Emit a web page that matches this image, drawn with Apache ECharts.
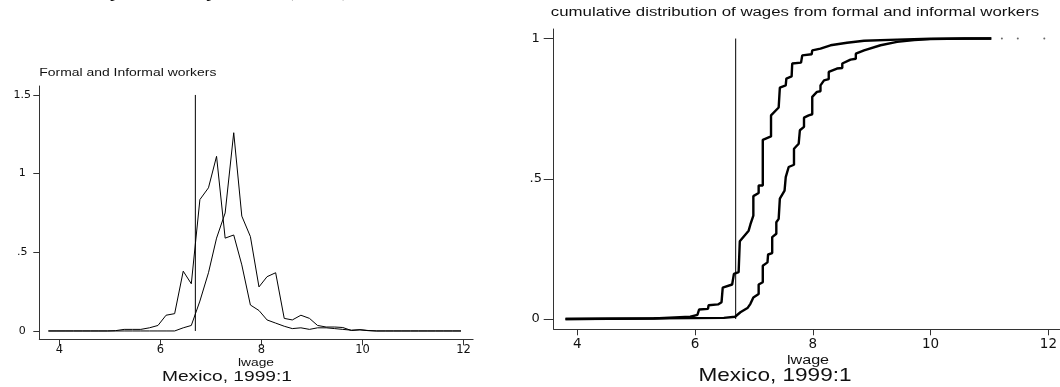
<!DOCTYPE html>
<html>
<head>
<meta charset="utf-8">
<script src="https://cdn.jsdelivr.net/npm/echarts@6/dist/echarts.min.js"></script>
<style>
html,body{margin:0;padding:0;background:#fff;}
#chart{width:1060px;height:387px;}
</style>
</head>
<body>
<div id="chart"></div>
<script>
// ---------- data ----------
const lwageBins = [3.78,3.95,4.11,4.28,4.45,4.61,4.78,4.95,5.11,5.28,5.45,5.61,5.78,5.95,6.11,6.28,6.45,6.61,6.78,6.95,7.11,7.28,7.45,7.61,7.78,7.95,8.11,8.28,8.45,8.61,8.78,8.95,9.11,9.28,9.45,9.61,9.78,9.95,10.11,10.28,10.45,10.61,10.78,10.95,11.11,11.28,11.45,11.61,11.78,11.95];
const informalDensity = [0,0,0,0,0,0,0,0,0.002,0.01,0.01,0.01,0.02,0.035,0.10,0.11,0.38,0.30,0.835,0.91,1.11,0.59,0.61,0.42,0.165,0.13,0.07,0.05,0.03,0.015,0.02,0.01,0.02,0.02,0.015,0.01,0.005,0.008,0.003,0,0,0,0,0,0,0,0,0,0,0];
const formalDensity = [0,0,0,0,0,0,0,0,0,0,0,0,0,0,0,0,0.02,0.035,0.19,0.37,0.59,0.75,1.26,0.73,0.60,0.28,0.345,0.37,0.08,0.07,0.10,0.08,0.035,0.025,0.025,0.022,0.003,0.007,0.002,0,0,0,0,0,0,0,0,0,0,0];

const informalCdfX = [3.80,5.30,5.92,6.04,6.07,6.07,6.22,6.23,6.39,6.40,6.45,6.47,6.63,6.66,6.66,6.74,6.76,6.76,6.91,6.94,6.94,6.99,6.99,7.08,7.08,7.15,7.15,7.29,7.29,7.42,7.44,7.54,7.55,7.64,7.65,7.80,7.82,7.98,7.99,8.13,8.30,8.58,8.87,9.43,10.0,11.03];
const informalCdfY = [0,0.002,0.008,0.015,0.015,0.034,0.036,0.049,0.052,0.057,0.06,0.112,0.123,0.125,0.161,0.167,0.168,0.277,0.315,0.318,0.337,0.369,0.438,0.449,0.476,0.476,0.639,0.651,0.726,0.754,0.825,0.833,0.857,0.865,0.911,0.914,0.94,0.944,0.958,0.964,0.976,0.985,0.992,0.996,0.999,1.0];
const formalCdfX = [3.80,6.49,6.68,6.77,6.89,6.94,6.99,7.08,7.08,7.15,7.15,7.23,7.24,7.31,7.31,7.38,7.38,7.42,7.44,7.52,7.54,7.59,7.68,7.68,7.76,7.78,7.85,7.85,7.93,7.99,7.99,8.07,8.13,8.13,8.19,8.27,8.27,8.41,8.50,8.50,8.64,8.73,8.73,8.87,9.15,9.43,9.72,10.0,10.57,11.03];
const formalCdfY = [0,0.004,0.008,0.024,0.039,0.054,0.077,0.089,0.123,0.131,0.19,0.202,0.23,0.235,0.292,0.304,0.345,0.357,0.429,0.458,0.506,0.542,0.55,0.607,0.625,0.673,0.685,0.718,0.726,0.73,0.792,0.81,0.812,0.833,0.851,0.855,0.881,0.893,0.895,0.911,0.925,0.928,0.946,0.958,0.976,0.988,0.995,0.998,1.0,1.0];
const cdfTailX = [11.21,11.48,11.93];
const cdfTailY = [1,1,1];

const minWage = 6.69;
const xTicks = [4,6,8,10,12];
const yTicksDensity = [0,0.5,1,1.5];
const yTicksCdf = [0,0.5,1];

const topTitle = 'Wage densities by formality status (1999)';
const leftTitle = 'Formal and Informal workers';
const rightTitle = 'cumulative distribution of wages from formal and informal workers';
const xName = 'lwage';
const caption = 'Mexico, 1999:1';

// ---------- helpers ----------
const zip = (xs, ys) => xs.map((x, i) => [x, ys[i]]);
const yFmt = v => (v === 0 ? '0' : String(v).replace(/^0\./, '.'));
const axisColor = '#333';

function xAx(gi, fs, margin, tickLen) {
  return {
    type: 'value', gridIndex: gi, min: 3.6, max: 12.19,
    axisLine: { show: true, onZero: false, lineStyle: { color: axisColor, width: 1 } },
    axisTick: { show: true, length: tickLen, customValues: xTicks, lineStyle: { color: axisColor } },
    axisLabel: { customValues: xTicks, fontFamily: 'DejaVu Sans', fontSize: fs, color: '#111', margin: margin },
    splitLine: { show: false }
  };
}
function yAx(gi, min, max, ticks, fs, margin, tickLen) {
  return {
    type: 'value', gridIndex: gi, min: min, max: max,
    axisLine: { show: true, onZero: false, lineStyle: { color: axisColor, width: 1 } },
    axisTick: { show: true, length: tickLen, customValues: ticks, lineStyle: { color: axisColor } },
    axisLabel: { customValues: ticks, formatter: yFmt, fontFamily: 'DejaVu Sans', fontSize: fs, color: '#111', margin: margin, align: 'center' },
    splitLine: { show: false }
  };
}
function lineS(xi, data, w, color) {
  return { type: 'line', xAxisIndex: xi, yAxisIndex: xi, data: data, symbol: 'none', showSymbol: false,
    lineStyle: { color: color || '#000', width: w }, silent: true, animation: false };
}
function txt(x, y, text, font, size, scaleX, align) {
  return { type: 'text', x: x, y: y, scaleX: scaleX, silent: true,
    style: { x: 0, y: 0, text: text, fontFamily: font, fontSize: size, fill: '#111', align: align, verticalAlign: 'middle' } };
}

const chart = echarts.init(document.getElementById('chart'), null, { renderer: 'canvas' });
chart.setOption({
  animation: false,
  backgroundColor: '#fff',
  grid: [
    { left: 39.3, top: 86, width: 433.8, height: 253.3 },
    { left: 553.7, top: 29, width: 511.1, height: 300.3 }
  ],
  xAxis: [ xAx(0, 11.5, 5, 6), xAx(1, 13.5, 8, 6) ],
  yAxis: [ yAx(0, -0.053, 1.557, yTicksDensity, 11, 17, 6), yAx(1, -0.0367, 1.034, yTicksCdf, 13, 18, 10) ],
  series: [
    lineS(0, zip(lwageBins, informalDensity), 1),
    lineS(0, zip(lwageBins, formalDensity), 1),
    lineS(0, [[minWage, 0], [minWage, 1.5]], 1),
    lineS(1, zip(informalCdfX, informalCdfY), 2.4),
    lineS(1, zip(formalCdfX, formalCdfY), 2.4),
    lineS(1, [[minWage, 0], [minWage, 1]], 1),
    { type: 'scatter', xAxisIndex: 1, yAxisIndex: 1, data: zip(cdfTailX, cdfTailY), symbolSize: 2,
      itemStyle: { color: '#444' }, silent: true, animation: false }
  ],
  graphic: [
    txt(350, -9.5, topTitle, 'Liberation Serif', 22, 1.1, 'right'),
    txt(39.3, 73.3, leftTitle, 'Liberation Sans', 10.5, 1.325, 'left'),
    txt(795, 13, rightTitle, 'Liberation Sans', 12, 1.4, 'center'),
    txt(256, 363, xName, 'Liberation Sans', 11, 1.25, 'center'),
    txt(808, 360, xName, 'Liberation Sans', 13, 1.24, 'center'),
    txt(227, 377, caption, 'Liberation Sans', 15.5, 1.237, 'center'),
    txt(775, 376, caption, 'Liberation Sans', 18.5, 1.22, 'center')
  ]
});
</script>
</body>
</html>
